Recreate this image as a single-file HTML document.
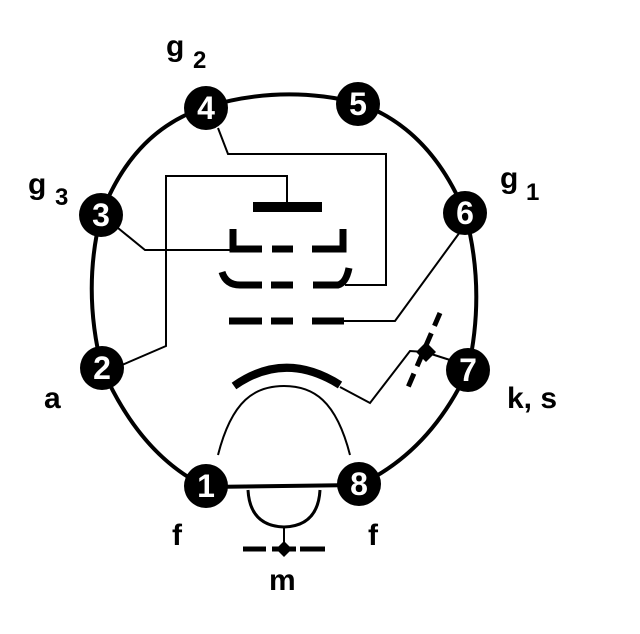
<!DOCTYPE html>
<html><head><meta charset="utf-8"><style>
html,body{margin:0;padding:0;background:#fff;}
svg{display:block;}
text{font-family:"Liberation Sans",sans-serif;font-weight:bold;}
</style></head><body>
<svg width="640" height="634" viewBox="0 0 640 634" xmlns="http://www.w3.org/2000/svg">
<g fill="none" stroke="#000" stroke-linecap="butt">
<path d="M206,107 Q282,84 358,103 Q430,128 465,213 Q486,290 468,370 Q430,452 359,485 L206,487 Q140,455 102,368 Q82,290 101,215 Q133,130 206,107" stroke-width="4"/>
<path d="M218,128 L228,154 L386,154 L386,285 L345,285" stroke-width="2"/>
<path d="M118,228 L145,250 L232,250" stroke-width="2"/>
<path d="M122,365 L166,346 L166,176 L287,176 L287,203" stroke-width="2"/>
<rect x="253" y="202" width="69" height="10" fill="#000" stroke="none"/>
<path d="M233,229 L233,249 L262,249 M272,249 L293,249 M312,249 L343,249 L343,229" stroke-width="7"/>
<path d="M222,272 Q226,285 240,285 L262,285 M271,285 L293,285 M313,285 L338,285 Q346,283 349,268" stroke-width="7"/>
<path d="M229,321 L262,321 M271,321 L293,321 M312,321 L344,321" stroke-width="7"/>
<path d="M344,321 L395,321 L460,232" stroke-width="2"/>
<path d="M234,386 Q285,350 340,385" stroke-width="8"/>
<path d="M340,387 L370,403 L410,351 L425,352 L450,360" stroke-width="2"/>
<path d="M440,313 L406,392" stroke-width="5" stroke-dasharray="14,8"/>
<polygon points="426,342 436,352 426,362 416,352" fill="#000" stroke="none"/>
<path d="M218,455 C232,400 255,386 284,386 C313,386 336,400 350,455" stroke-width="2"/>
<path d="M248,490 Q250,526 284,527 Q318,526 320,490" stroke-width="3"/>
<path d="M284,527 L284,548" stroke-width="2"/>
<path d="M243,549 L266,549 M300,549 L325,549" stroke-width="5"/>
<path d="M272,549 L296,549" stroke-width="5"/>
<polygon points="284,541 292,549 284,557 276,549" fill="#000" stroke="none"/>
</g>
<g fill="#000">
<circle cx="206" cy="108" r="22"/>
<circle cx="358" cy="104" r="22"/>
<circle cx="465" cy="213" r="22"/>
<circle cx="468" cy="370" r="22"/>
<circle cx="359" cy="484" r="22"/>
<circle cx="206" cy="486" r="22"/>
<circle cx="102" cy="368" r="22"/>
<circle cx="101" cy="215" r="22"/>
</g>
<g fill="#fff" font-size="32" text-anchor="middle">
<text x="206" y="119">4</text>
<text x="358" y="115">5</text>
<text x="465" y="224">6</text>
<text x="468" y="381">7</text>
<text x="359" y="495">8</text>
<text x="206" y="497">1</text>
<text x="102" y="379">2</text>
<text x="101" y="226">3</text>
</g>
<g fill="#000" font-size="30">
<text x="166" y="56">g</text><text x="193" y="68" font-size="24">2</text>
<text x="28" y="194">g</text><text x="55" y="205" font-size="24">3</text>
<text x="500" y="188">g</text><text x="526" y="200" font-size="24">1</text>
<text x="44" y="408">a</text>
<text x="507" y="408">k, s</text>
<text x="172" y="545">f</text>
<text x="368" y="545">f</text>
<text x="269" y="590">m</text>
</g>
</svg>
</body></html>
